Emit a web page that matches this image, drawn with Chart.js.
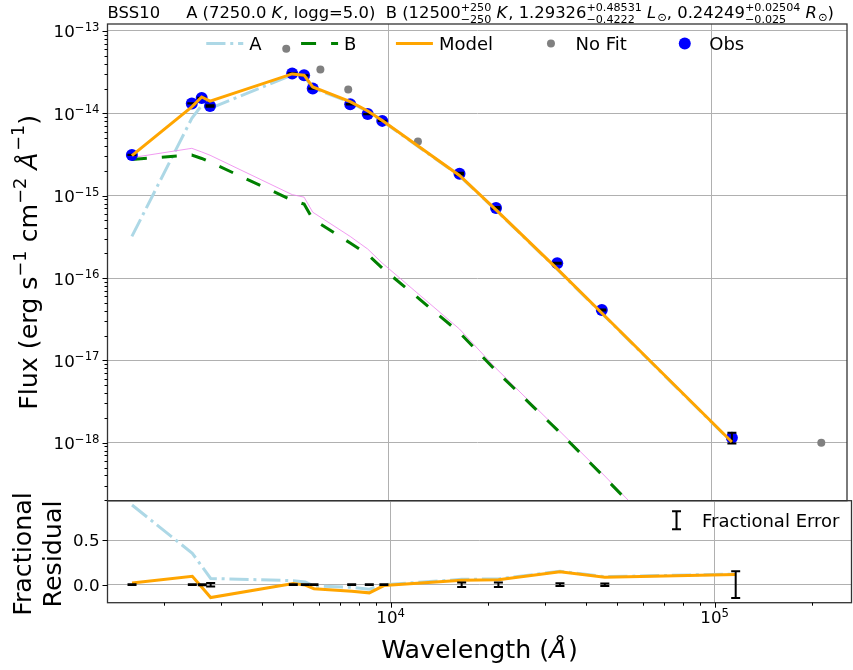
<!DOCTYPE html>
<html><head><meta charset="utf-8">
<script src="https://cdn.jsdelivr.net/npm/chart.js@4/dist/chart.umd.min.js"></script>
<style>
html,body{margin:0;padding:0;background:#fff;}
#wrap{position:relative;width:853px;height:670px;overflow:hidden;background:#fff;}
canvas{position:absolute;left:0;}
#c1{top:0;} #c2{top:490px;}
</style></head><body>
<div id="wrap"><canvas id="c1" width="853" height="510"></canvas><canvas id="c2" width="853" height="180"></canvas></div>
<script>
// ---------------- data ----------------
const objName = 'BSS10';
const fitWave   = [1591, 2442, 2621, 2782, 5005, 5450, 5798, 7579, 8590, 9530, 16560, 21500, 33300, 45800, 116100];
const obsFlux   = [3.13e-15, 1.32e-14, 1.54e-14, 1.23e-14, 3.05e-14, 2.90e-14, 2.00e-14, 1.29e-14, 9.8e-15, 8.1e-15, 1.85e-15, 7.1e-16, 1.51e-16, 4.1e-17, 1.15e-18];
const fracErr   = [0.004, 0.004, 0.006, 0.02, 0.004, 0.004, 0.005, 0.004, 0.004, 0.005, 0.025, 0.025, 0.015, 0.014, 0.15];
const modelFlux = [3.07e-15, 1.20e-14, 1.58e-14, 1.41e-14, 3.01e-14, 2.91e-14, 2.09e-14, 1.39e-14, 1.07e-14, 8.18e-15, 1.76e-15, 6.71e-16, 1.29e-16, 3.76e-17, 1.02e-18];
const aFlux     = [3.2e-16, 8.7e-15, 1.25e-14, 1.15e-14, 2.92e-14, 2.82e-14, 2.04e-14, 1.36e-14, 1.05e-14, 8.05e-15, 1.74e-15, 6.64e-16, 1.28e-16, 3.72e-17, 1.01e-18];
const bFlux     = [2.76e-15, 3.12e-15, 2.83e-15, 2.56e-15, 8.8e-16, 7.9e-16, 5.2e-16, 2.66e-16, 1.93e-16, 1.32e-16, 2.18e-17, 7.45e-18, 1.43e-18, 4.1e-19, 1.0e-20];
const bAltFlux  = [2.9e-15, 3.76e-15, 3.4e-15, 3.1e-15, 1.03e-15, 9.6e-16, 6.3e-16, 3.2e-16, 2.25e-16, 1.52e-16, 2.4e-17, 8.0e-18, 1.48e-18, 4.3e-19, 1.0e-20];
const noFitWave = [4797, 6124, 7472, 12300, 220000];
const noFitFlux = [6.1e-14, 3.4e-14, 1.95e-14, 4.54e-15, 1.0e-18];
const residModel = [0.02, 0.095, -0.035, -0.145, 0.012, -0.005, -0.045, -0.075, -0.092, -0.01, 0.05, 0.055, 0.145, 0.083, 0.115];
const residA     = [0.898, 0.354, 0.2, 0.07, 0.045, 0.03, -0.015, -0.03, -0.05, 0.0, 0.06, 0.065, 0.152, 0.09, 0.12];
// tick labels
const fluxDecades = [-18, -17, -16, -15, -14, -13];
const fluxTickExp = ['\u221218', '\u221217', '\u221216', '\u221215', '\u221214', '\u221213'];
const waveDecades = [4, 5];
const waveTickExp = ['4', '5'];
const residTicks = [0.0, 0.5];
const residTickLabels = ['0.0', '0.5'];
const legendOrder = ['A', 'B', 'Model', 'No Fit', 'Obs'];

// ---------------- styling ----------------
const FONT = '"DejaVu Sans", sans-serif';
const F_TICK = 16.7, F_LEG = 18, F_LAB = 25.3, F_TITLE = 16.4;
const X_MIN = 1336.5, X_MAX = 264400;
const Y_MIN = Math.pow(10, -18.704), Y_MAX = Math.pow(10, -12.915);
const R_MIN = -0.203, R_MAX = 0.946;
const GRID = '#b0b0b0';
const AXIS_W = 107.5;

function fnt(size, it) { return (it ? 'italic ' : '') + size + 'px ' + FONT; }
function pts(xs, ys) { return xs.map((x, i) => ({ x: x, y: ys[i] })); }

function layoutRich(ctx, parts, base) {
  let w = 0; const items = [];
  for (const p of parts) {
    if (p.stack) {
      const sz = base * 0.68;
      ctx.font = fnt(sz, false);
      const w1 = ctx.measureText(p.stack[0]).width, w2 = ctx.measureText(p.stack[1]).width;
      items.push({ x: w, t: p.stack[0], size: sz, dy: base * 0.45, it: false });
      items.push({ x: w, t: p.stack[1], size: sz, dy: -base * 0.3, it: false });
      w += Math.max(w1, w2);
    } else {
      const sz = base * (p.s || 1);
      ctx.font = fnt(sz, p.it);
      const ww = ctx.measureText(p.t).width;
      items.push({ x: w, t: p.t, size: sz, dy: (p.dy || 0) * base, it: p.it });
      w += ww + (p.it ? sz * 0.06 : 0);
    }
  }
  return { w, items };
}
function drawRich(ctx, parts, base, x, y, align) {
  const L = layoutRich(ctx, parts, base);
  const x0 = align === 'center' ? x - L.w / 2 : align === 'right' ? x - L.w : x;
  ctx.fillStyle = '#000'; ctx.textBaseline = 'alphabetic'; ctx.textAlign = 'left';
  for (const it of L.items) { ctx.font = fnt(it.size, it.it); ctx.fillText(it.t, x0 + it.x, y - it.dy); }
}

function logTicks(lo, hi) {
  const t = [];
  const e0 = Math.floor(Math.log10(lo)), e1 = Math.ceil(Math.log10(hi));
  for (let e = e0; e <= e1; e++) for (let k = 1; k <= 9; k++) {
    const v = k * Math.pow(10, e);
    if (v >= lo && v <= hi) t.push({ value: v, major: k === 1 });
  }
  return t;
}
const gridColor = (c) => (c.tick && c.tick.major) ? GRID : 'rgba(0,0,0,0)';

function frame(chart) {
  const { ctx, chartArea: a } = chart;
  ctx.save(); ctx.setLineDash([]); ctx.strokeStyle = '#333'; ctx.lineWidth = 1.3;
  ctx.strokeRect(a.left, a.top, a.right - a.left, a.bottom - a.top);
  ctx.restore();
}
function yTickMarks(chart, scale) {
  const { ctx, chartArea: a } = chart;
  ctx.save(); ctx.strokeStyle = '#000'; ctx.lineWidth = 1;
  for (const t of scale.ticks) {
    const y = Math.round(scale.getPixelForValue(t.value)) + 0.5;
    const len = t.major ? 5 : 3;
    ctx.beginPath(); ctx.moveTo(a.left - len, y); ctx.lineTo(a.left, y); ctx.stroke();
  }
  ctx.restore();
}
function xTickMarks(chart, scale) {
  const { ctx, chartArea: a } = chart;
  ctx.save(); ctx.strokeStyle = '#000'; ctx.lineWidth = 1;
  for (const t of scale.ticks) {
    const x = Math.round(scale.getPixelForValue(t.value)) + 0.5;
    const len = t.major ? 5 : 3;
    ctx.beginPath(); ctx.moveTo(x, a.bottom); ctx.lineTo(x, a.bottom + len); ctx.stroke();
  }
  ctx.restore();
}
function errBar(ctx, x, y1, y2, half) {
  ctx.beginPath(); ctx.moveTo(x, y1); ctx.lineTo(x, y2);
  ctx.moveTo(x - half, y1); ctx.lineTo(x + half, y1);
  ctx.moveTo(x - half, y2); ctx.lineTo(x + half, y2); ctx.stroke();
}

// ---------------- top panel ----------------
const topPlugin = {
  id: 'topDeco',
  afterDatasetDraw(chart, args) {
    if (chart.data.datasets[args.index].label !== 'Obs') return;
    const { ctx, chartArea: a } = chart; const xs = chart.scales.x, ys = chart.scales.y;
    ctx.save(); ctx.beginPath(); ctx.rect(a.left, a.top, a.right - a.left, a.bottom - a.top); ctx.clip();
    ctx.strokeStyle = '#000'; ctx.lineWidth = 2; ctx.setLineDash([]);
    fitWave.forEach((w, i) => {
      const x = xs.getPixelForValue(w);
      errBar(ctx, x, ys.getPixelForValue(obsFlux[i] * (1 - fracErr[i])), ys.getPixelForValue(obsFlux[i] * (1 + fracErr[i])), 4.5);
    });
    ctx.restore();
  },
  afterDraw(chart) {
    const { ctx, chartArea: a } = chart; const ys = chart.scales.y;
    frame(chart);
    yTickMarks(chart, ys);
    fluxDecades.forEach((d, i) => {
      const y = ys.getPixelForValue(Math.pow(10, d));
      drawRich(ctx, [{ t: '10' }, { t: fluxTickExp[i], s: 0.7, dy: 0.39 }], F_TICK, a.left - 8, y + 6.5, 'right');
    });
    // y title
    ctx.save();
    ctx.translate(37, (a.top + a.bottom) / 2); ctx.rotate(-Math.PI / 2);
    drawRich(ctx, [{ t: 'Flux (erg s' }, { t: '\u22121', s: 0.7, dy: 0.42 }, { t: ' cm' }, { t: '\u22122', s: 0.7, dy: 0.42 },
      { t: ' ' }, { t: '\u00c5', it: true }, { t: '\u22121', s: 0.7, dy: 0.5 }, { t: ')' }], F_LAB, 0, 0, 'center');
    ctx.restore();
    // title
    drawRich(ctx, [{ t: objName + '     A (7250.0 ' }, { t: 'K', it: true }, { t: ', logg=5.0)  B (12500' },
      { stack: ['+250', '\u2212250'] }, { t: ' ' }, { t: 'K', it: true }, { t: ', 1.29326' },
      { stack: ['+0.48531', '\u22120.4222'] }, { t: ' ' }, { t: 'L', it: true }, { t: '\u2299', s: 0.7, dy: -0.2 },
      { t: ', 0.24249' }, { stack: ['+0.02504', '\u22120.025'] }, { t: ' ' }, { t: 'R', it: true },
      { t: '\u2299', s: 0.7, dy: -0.2 }, { t: ')' }], F_TITLE, a.left, 18, 'left');
    // legend
    ctx.save();
    ctx.font = fnt(F_LEG);
    const HL = 37, PAD = 6, COL = 39.5;
    const items = legendOrder.map(l => chart.data.datasets.find(d => d.label === l));
    const widths = items.map(d => ctx.measureText(d.label).width);
    let total = widths.reduce((s, w) => s + HL + PAD + w, 0) + COL * (items.length - 1);
    let x = (a.left + a.right) / 2 - total / 2 - 2; const y = 43.5;
    items.forEach((d, i) => {
      if (d.showLine === false) {
        ctx.fillStyle = d.pointBackgroundColor; ctx.beginPath(); ctx.arc(x + HL / 2, y, d.pointRadius, 0, Math.PI * 2); ctx.fill();
      } else {
        ctx.strokeStyle = d.borderColor; ctx.lineWidth = d.borderWidth; ctx.setLineDash(d.borderDash || []);
        ctx.beginPath(); ctx.moveTo(x, y); ctx.lineTo(x + HL, y); ctx.stroke(); ctx.setLineDash([]);
      }
      ctx.fillStyle = '#000'; ctx.font = fnt(F_LEG); ctx.textAlign = 'left'; ctx.textBaseline = 'alphabetic';
      ctx.fillText(d.label, x + HL + PAD, y + 6.6);
      x += HL + PAD + widths[i] + COL;
    });
    ctx.restore();
  }
};

new Chart(document.getElementById('c1'), {
  type: 'line',
  data: {
    datasets: [
      { label: 'Model', data: pts(fitWave, modelFlux), borderColor: '#ffa500', borderWidth: 3, pointRadius: 0, order: 0 },
      { label: 'Obs', data: pts(fitWave, obsFlux), showLine: false, pointRadius: 6, pointBackgroundColor: '#0000ff', pointBorderWidth: 0, order: 1 },
      { label: 'No Fit', data: pts(noFitWave, noFitFlux), showLine: false, pointRadius: 4, pointBackgroundColor: '#808080', pointBorderWidth: 0, order: 2 },
      { label: 'B', data: pts(fitWave, bFlux), borderColor: '#008000', borderWidth: 3, borderDash: [15, 15], pointRadius: 0, order: 3 },
      { label: 'B0', data: pts(fitWave, bAltFlux), borderColor: 'rgba(238,130,238,0.8)', borderWidth: 1, pointRadius: 0, order: 4 },
      { label: 'A', data: pts(fitWave, aFlux), borderColor: '#add8e6', borderWidth: 3, borderDash: [19.2, 4.8, 3, 4.8], pointRadius: 0, order: 5 }
    ]
  },
  options: {
    responsive: false, animation: false, devicePixelRatio: 1,
    layout: { padding: { top: 24, bottom: 9.3, left: 0, right: 1.5 } },
    plugins: { legend: { display: false }, tooltip: { enabled: false } },
    elements: { line: { tension: 0 } },
    scales: {
      x: { type: 'logarithmic', min: X_MIN, max: X_MAX, ticks: { display: false },
        grid: { drawTicks: false, color: gridColor, lineWidth: 1 }, border: { display: false },
        afterBuildTicks: s => { s.ticks = logTicks(X_MIN, X_MAX); }, afterFit: s => { s.height = 0; } },
      y: { type: 'logarithmic', min: Y_MIN, max: Y_MAX, ticks: { display: false },
        grid: { drawTicks: false, color: gridColor, lineWidth: 1 }, border: { display: false },
        afterBuildTicks: s => { s.ticks = logTicks(Y_MIN, Y_MAX); }, afterFit: s => { s.width = AXIS_W; } }
    }
  },
  plugins: [topPlugin]
});

// ---------------- residual panel ----------------
const botPlugin = {
  id: 'botDeco',
  afterDatasetsDraw(chart) {
    const { ctx, chartArea: a } = chart; const xs = chart.scales.x, ys = chart.scales.y;
    ctx.save(); ctx.strokeStyle = '#000'; ctx.lineWidth = 2; ctx.setLineDash([]);
    fitWave.forEach((w, i) => {
      const x = xs.getPixelForValue(w);
      errBar(ctx, x, ys.getPixelForValue(-fracErr[i]), ys.getPixelForValue(fracErr[i]), 4.5);
    });
    ctx.restore();
  },
  afterDraw(chart) {
    const { ctx, chartArea: a } = chart; const xs = chart.scales.x, ys = chart.scales.y;
    frame(chart);
    xTickMarks(chart, xs);
    ctx.save(); ctx.strokeStyle = '#000'; ctx.lineWidth = 1;
    residTicks.forEach(v => { const y = Math.round(ys.getPixelForValue(v)) + 0.5; ctx.beginPath(); ctx.moveTo(a.left - 5, y); ctx.lineTo(a.left, y); ctx.stroke(); });
    ctx.restore();
    residTicks.forEach((v, i) => {
      ctx.font = fnt(F_TICK); ctx.fillStyle = '#000'; ctx.textAlign = 'right'; ctx.textBaseline = 'alphabetic';
      ctx.fillText(residTickLabels[i], a.left - 8, ys.getPixelForValue(v) + 6.1);
    });
    waveDecades.forEach((d, i) => {
      const x = xs.getPixelForValue(Math.pow(10, d));
      drawRich(ctx, [{ t: '10' }, { t: waveTickExp[i], s: 0.7, dy: 0.39 }], F_TICK, x, a.bottom + 20.6, 'center');
    });
    drawRich(ctx, [{ t: 'Wavelength (' }, { t: '\u00c5', it: true }, { t: ')' }], F_LAB, (a.left + a.right) / 2, 167.5, 'center');
    ctx.save();
    ctx.translate(31, 64); ctx.rotate(-Math.PI / 2);
    drawRich(ctx, [{ t: 'Fractional' }], F_LAB, 0, 0, 'center');
    ctx.restore();
    ctx.save();
    ctx.translate(61, 64); ctx.rotate(-Math.PI / 2);
    drawRich(ctx, [{ t: 'Residual' }], F_LAB, 0, 0, 'center');
    ctx.restore();
    // legend
    ctx.save();
    ctx.font = fnt(F_LEG);
    const lab = 'Fractional Error';
    const tw = ctx.measureText(lab).width;
    const tx = a.right - 12 - tw; const ly = a.top + 19.5;
    ctx.fillStyle = '#000'; ctx.textAlign = 'left'; ctx.textBaseline = 'alphabetic';
    ctx.fillText(lab, tx, ly + 6.6);
    ctx.strokeStyle = '#000'; ctx.lineWidth = 2;
    errBar(ctx, tx - 25.5, ly - 9, ly + 9, 4.5);
    ctx.restore();
  }
};

new Chart(document.getElementById('c2'), {
  type: 'line',
  data: {
    datasets: [
      { label: 'Model', data: pts(fitWave, residModel), borderColor: '#ffa500', borderWidth: 3, pointRadius: 0, order: 0 },
      { label: 'A', data: pts(fitWave, residA), borderColor: '#add8e6', borderWidth: 3, borderDash: [19.2, 4.8, 3, 4.8], pointRadius: 0, order: 1 }
    ]
  },
  options: {
    responsive: false, animation: false, devicePixelRatio: 1,
    layout: { padding: { top: 10.7, bottom: 0, left: 0, right: 1.5 } },
    plugins: { legend: { display: false }, tooltip: { enabled: false } },
    elements: { line: { tension: 0 } },
    scales: {
      x: { type: 'logarithmic', min: X_MIN, max: X_MAX, ticks: { display: false },
        grid: { drawTicks: false, color: gridColor, lineWidth: 1 }, border: { display: false },
        afterBuildTicks: s => { s.ticks = logTicks(X_MIN, X_MAX); }, afterFit: s => { s.height = 67.3; } },
      y: { type: 'linear', min: R_MIN, max: R_MAX, ticks: { display: false },
        grid: { drawTicks: false, color: GRID, lineWidth: 1 }, border: { display: false },
        afterBuildTicks: s => { s.ticks = residTicks.map(v => ({ value: v })); }, afterFit: s => { s.width = AXIS_W; } }
    }
  },
  plugins: [botPlugin]
});
</script>
</body></html>
